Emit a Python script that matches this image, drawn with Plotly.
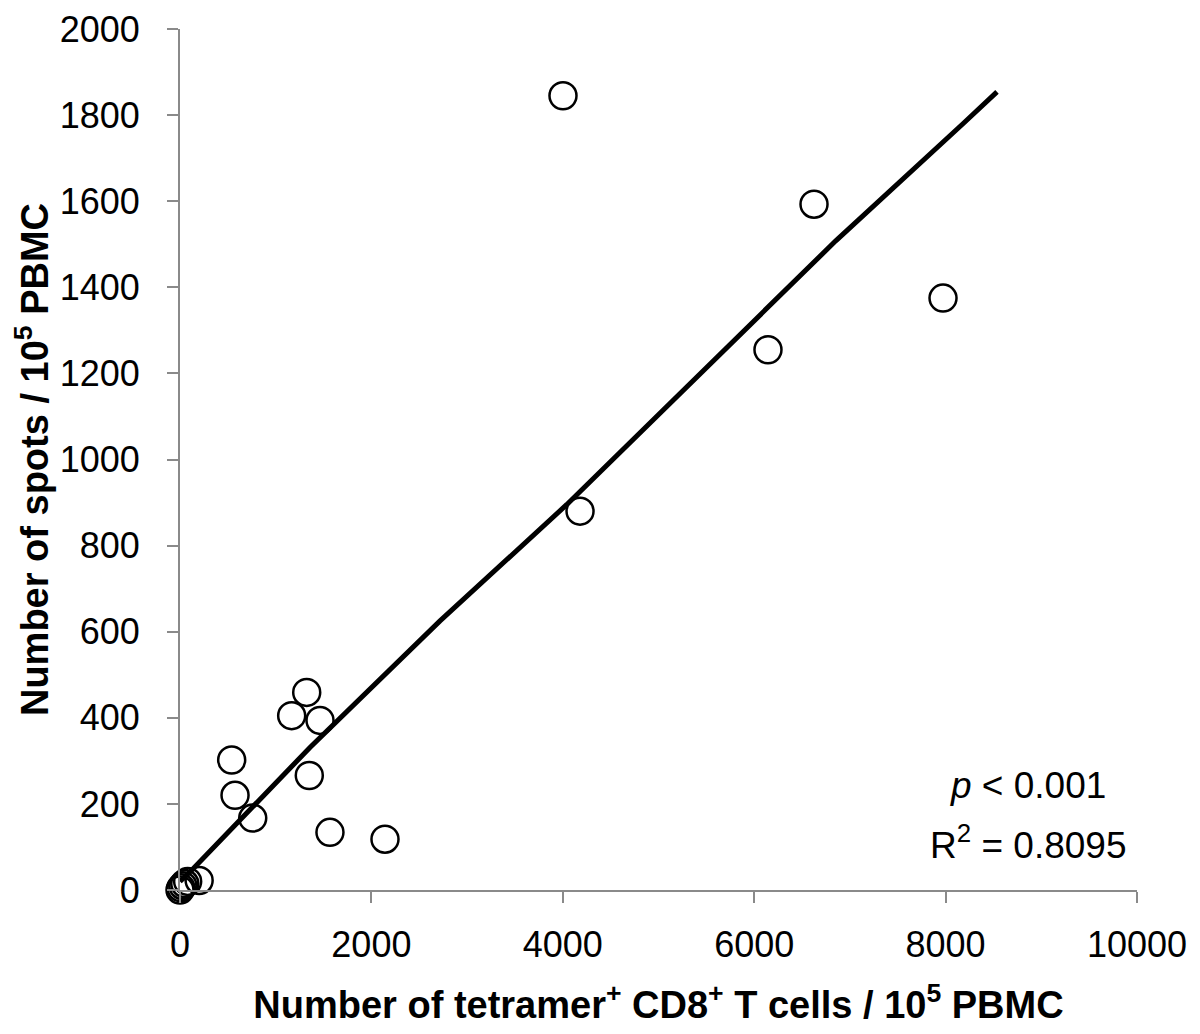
import plotly.graph_objects as go

# Scatter data: tetramer+ CD8+ T cells vs. ELISPOT spots (per 10^5 PBMC)
tetramer_cells = [0, 10, 30, 50, 80, 200,
                  540, 575, 760, 1167, 1324, 1351, 1463, 1567, 2142,
                  4002, 4180, 6144, 6625, 7973]
spots = [0, 5, 10, 15, 20, 22,
         302, 220, 167, 405, 459, 266, 394, 134, 118,
         1845, 880, 1255, 1593, 1375]

# Fitted trend line
fit_x = [0, 122, 1358, 2717, 4040, 6040, 6852, 8187, 8537]
fit_y = [20, 46, 331, 625, 895, 1329, 1508, 1781, 1854]

x_ticks = [0, 2000, 4000, 6000, 8000, 10000]
y_ticks = [0, 200, 400, 600, 800, 1000, 1200, 1400, 1600, 1800, 2000]

FONT = "Liberation Sans, Arial, sans-serif"
AXIS_GRAY = "#8a8a8a"

fig = go.Figure()
fig.add_trace(go.Scatter(
    x=fit_x, y=fit_y, mode="lines",
    line=dict(color="black", width=5),
    cliponaxis=False, showlegend=False, hoverinfo="skip"))
fig.add_trace(go.Scatter(
    x=tetramer_cells, y=spots, mode="markers",
    marker=dict(symbol="circle-open", size=27, color="black",
                line=dict(color="black", width=2.5)),
    cliponaxis=False, showlegend=False))

fig.update_layout(
    width=1184, height=1018,
    margin=dict(l=172, r=55, t=21, b=136),
    paper_bgcolor="white", plot_bgcolor="white",
    font=dict(family=FONT, size=36, color="black"),
    xaxis=dict(
        range=[0, 10000], tickvals=x_ticks,
        ticktext=[str(v) for v in x_ticks],
        showgrid=False, zeroline=False,
        showline=True, linecolor=AXIS_GRAY, linewidth=2,
        ticks="outside", ticklen=11, tickwidth=2, tickcolor=AXIS_GRAY,
        ticklabelstandoff=11, ticklabeloverflow="allow",
        title=dict(text="<b>Number of tetramer<sup>+</sup> CD8<sup>+</sup> T cells / 10<sup>5</sup> PBMC</b>",
                   font=dict(size=38), standoff=34),
        automargin=False,
    ),
    yaxis=dict(
        range=[0, 2000], tickvals=y_ticks,
        ticktext=[str(v) for v in y_ticks],
        showgrid=False, zeroline=False,
        showline=True, linecolor=AXIS_GRAY, linewidth=2,
        ticks="outside", ticklen=11, tickwidth=2, tickcolor=AXIS_GRAY,
        ticklabelstandoff=20, ticklabeloverflow="allow",
        title=dict(text="<b>Number of spots / 10<sup>5</sup> PBMC</b>",
                   font=dict(size=38), standoff=16),
        automargin=False,
    ),
    annotations=[
        dict(x=8861, y=243, xref="x", yref="y", showarrow=False,
             text="<i>p</i> < 0.001", font=dict(size=37), xanchor="center"),
        dict(x=8861, y=111, xref="x", yref="y", showarrow=False,
             text="R<sup>2</sup> = 0.8095", font=dict(size=37), xanchor="center"),
    ],
)

fig.write_html("out.html")
